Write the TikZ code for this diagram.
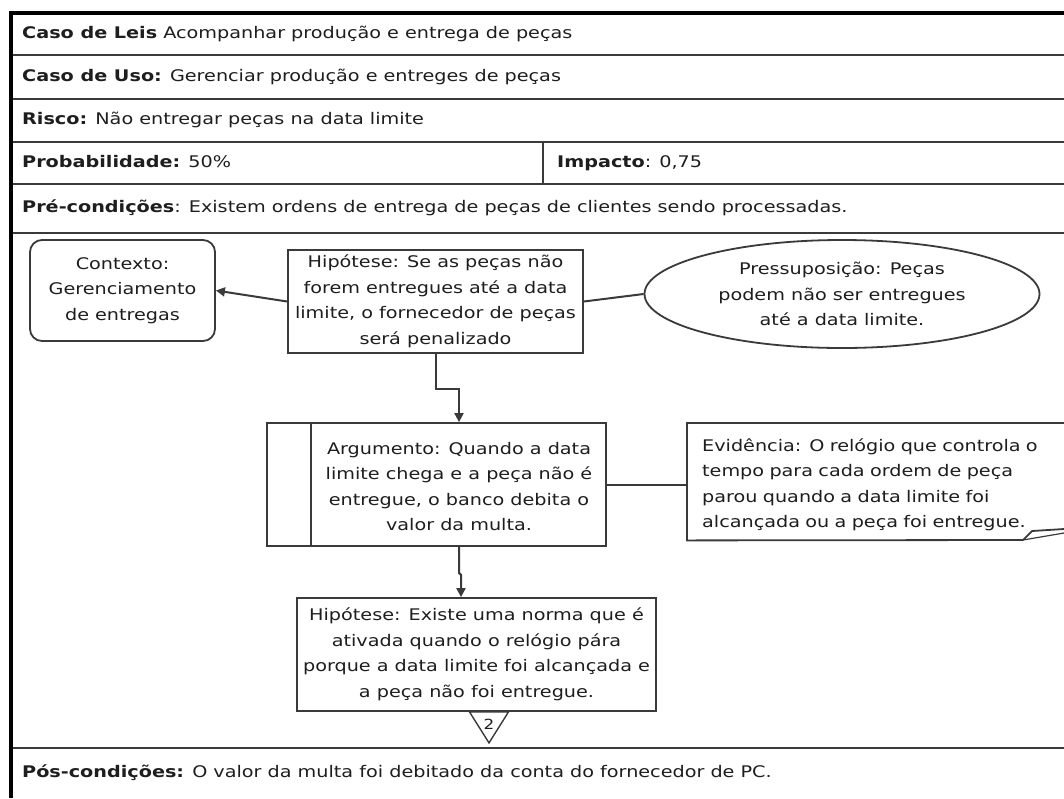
\documentclass[tikz,border=0pt]{standalone}
\usepackage{fontspec}
\setmainfont{DejaVu Sans}[FakeStretch=1.2]
\usetikzlibrary{shapes.geometric,arrows.meta,calc}
\definecolor{ink}{HTML}{1E1E1E}
\definecolor{rule}{HTML}{3A3A3A}
\begin{document}
\begin{tikzpicture}[x=1pt,y=-1pt,
  font=\fontsize{16}{25.5}\selectfont,
  every node/.style={text=ink},
  rowtext/.style={anchor=base west, inner sep=0pt},
  rowline/.style={draw=rule, line width=1.6pt},
  frame/.style={draw=black, line width=3.5pt},
  diabox/.style={draw=rule, line width=1.8pt, inner sep=0pt, align=center},
  dtext/.style={inner sep=0pt, align=center},
  link/.style={draw=rule, line width=2pt},
  arrowlink/.style={link, -{Triangle[length=9pt,width=9pt]}},
]
\useasboundingbox (0,0) rectangle (1064,798);
\fill[white] (0,0) rectangle (1064,798);

% table rules
\draw[rowline] (11,55) -- (1064,55);
\draw[rowline] (11,99) -- (1064,99);
\draw[rowline] (11,142) -- (1064,142);
\draw[rowline] (11,184) -- (1064,184);
\draw[rowline] (11,233) -- (1064,233);
\draw[rowline] (11,748) -- (1064,748);
\draw[rowline] (543,142) -- (543,184);
\draw[frame] (11,798) -- (11,13) -- (1064,13);

% table text
\node[rowtext] (leis) at (22,38.5) {\textbf{Caso de Leis} Acompanhar produção e entrega de peças};
\node[rowtext] (uso) at (22,81.5) {\textbf{Caso de Uso:} Gerenciar produção e entreges de peças};
\node[rowtext] (risco) at (22,124.5) {\textbf{Risco:} Não entregar peças na data limite};
\node[rowtext] (prob) at (22,167.5) {\textbf{Probabilidade:} 50\%};
\node[rowtext] (imp) at (557,167.5) {\textbf{Impacto}: 0,75};
\node[rowtext] (pre) at (22,212.5) {\textbf{Pré-condições}: Existem ordens de entrega de peças de clientes sendo processadas.};
\node[rowtext] (pos) at (22,777.5) {\textbf{Pós-condições:} O valor da multa foi debitado da conta do fornecedor de PC.};

% argument diagram
\node[diabox, rounded corners=12pt, minimum width=185pt, minimum height=101pt] (ctx) at (122.5,290.5)
  {Contexto:\\Gerenciamento\\de entregas};
\node[diabox, minimum width=295pt, minimum height=103pt] (hipA) at (435.5,301.5)
  {Hipótese: Se as peças não\\forem entregues até a data\\limite, o fornecedor de peças\\será penalizado};
\node[diabox, ellipse, minimum width=395pt, minimum height=108pt] (pres) at (842,294)
  {Pressuposição: Peças\\podem não ser entregues\\até a data limite.};

\node[diabox, minimum width=339pt, minimum height=123pt] (arg) at (436.5,484.5) {};
\draw[rowline, line width=1.8pt] ($(arg.north west)+(45,0)$) -- ($(arg.south west)+(45,0)$);
\node[dtext] (argtxt) at (459,486.5)
  {Argumento: Quando a data\\limite chega e a peça não é\\entregue, o banco debita o\\valor da multa.};

\node[minimum width=400pt, minimum height=117pt, inner sep=0pt, anchor=north west] (evd) at (687,423) {};
\draw[rowline, line width=1.8pt] (evd.north east) -- (evd.north west) -- (evd.south west) -- (1023,540);
\draw[rowline, line width=1.8pt] (1023,540) -- (1032,531) -- (1064,529);
\draw[rowline, line width=1.2pt] (1023,540) -- (1064,533);
\node[inner sep=0pt, text width=370pt, align=left, anchor=west] (evdtxt) at (702,485)
  {Evidência: O relógio que controla o\\tempo para cada ordem de peça\\parou quando a data limite foi\\alcançada ou a peça foi entregue.};

\node[diabox, minimum width=359pt, minimum height=113pt] (hipB) at (476.5,654.5)
  {Hipótese: Existe uma norma que é\\ativada quando o relógio pára\\porque a data limite foi alcançada e\\a peça não foi entregue.};
\draw[rowline, line width=1.4pt] ($(hipB.south)+(-7,0)$) -- ++(39,0) -- ++(-19.5,31) -- cycle;
\node[inner sep=0pt, font=\fontsize{14}{14}\selectfont] (num) at ($(hipB.south)+(12.5,12)$) {2};

% connectors
\draw[arrowlink] (hipA.west) -- (ctx.east);
\draw[link] (hipA.east) -- (pres.west);
\draw[arrowlink] (hipA.south) -- ++(0,35) -| ($(arg.north)+(22.5,0)$);
\draw[arrowlink] ($(arg.south)+(22.5,0)$) -- ++(0,26) -- ++(2,2) -- ($(hipB.north)+(-15.5,0)$);
\draw[link] (arg.east) -- (arg.east -| evd.west);
\end{tikzpicture}
\end{document}
